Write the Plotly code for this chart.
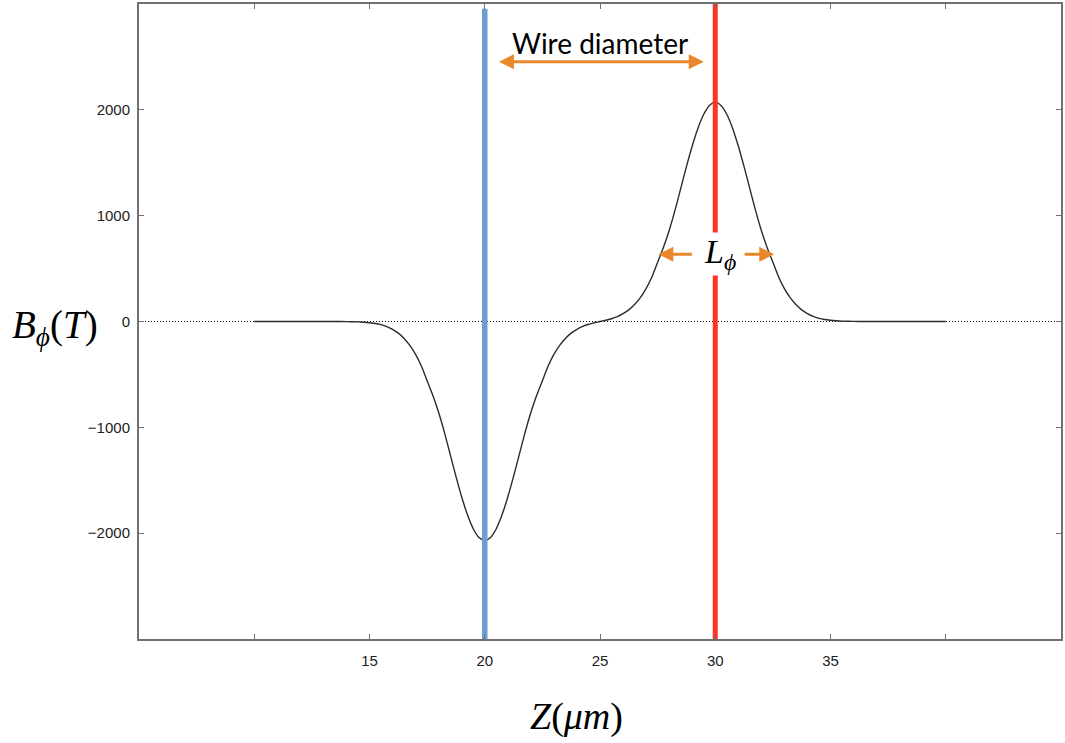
import plotly.graph_objects as go

# ---- data ----
z_um = [10.0, 11.0, 12.0, 13.0, 13.5, 14.0, 14.5,
        14.75, 15.0, 15.25, 15.5, 15.75, 16.0, 16.25, 16.5, 16.75, 17.0, 17.25, 17.5, 17.75,
        18.0, 18.25, 18.5, 18.75, 19.0, 19.25, 19.5, 19.75, 20.0, 20.25, 20.5, 20.75,
        21.0, 21.25, 21.5, 21.75, 22.0, 22.25, 22.5, 22.75, 23.0, 23.25, 23.5, 23.75,
        24.0, 24.25, 24.5, 24.75, 25.0, 25.25, 25.5, 25.75, 26.0, 26.25, 26.5, 26.75,
        27.0, 27.25, 27.5, 27.75, 28.0, 28.25, 28.5, 28.75, 29.0, 29.25, 29.5, 29.75,
        30.0, 30.25, 30.5, 30.75, 31.0, 31.25, 31.5, 31.75, 32.0, 32.25, 32.5, 32.75,
        33.0, 33.25, 33.5, 33.75, 34.0, 34.25, 34.5, 34.75, 35.0, 35.25,
        35.5, 36.0, 36.5, 37.0, 38.0, 39.0, 40.0]
b_phi = [0, 0, 0, 0, 0, -1, -4,
         -7, -12, -19, -30, -48, -75, -110, -160, -225, -310, -420, -560, -700,
         -860, -1048, -1255, -1463, -1658, -1827, -1958, -2041, -2070, -2041, -1958, -1827,
         -1658, -1463, -1255, -1048, -860, -700, -560, -420, -310, -225, -160, -110,
         -74, -46, -26, -12, 0, 12, 26, 46, 74, 110, 160, 225,
         310, 420, 560, 700, 860, 1048, 1255, 1463, 1658, 1827, 1958, 2041,
         2075, 2041, 1958, 1827, 1658, 1463, 1255, 1048, 860, 700, 560, 420,
         310, 225, 160, 110, 75, 48, 30, 19, 12, 7,
         4, 1, 0, 0, 0, 0, 0]

x_tick_vals = [10, 15, 20, 25, 30, 35, 40]
x_tick_text = ["", "15", "20", "25", "30", "35", ""]
y_tick_vals = [-2000, -1000, 0, 1000, 2000]
y_tick_text = ["\u22122000", "\u22121000", "0", "1000", "2000"]

x_range = [5, 45]
y_range = [-3000, 3000]

blue_z = 20
red_z = 30

ORANGE = "#E8872C"

fig = go.Figure()

# zero dotted line
fig.add_trace(go.Scatter(x=x_range, y=[0, 0], mode="lines",
                         line=dict(color="#000000", width=1.2, dash="1px,2px"),
                         hoverinfo="skip", showlegend=False))
# field curve
fig.add_trace(go.Scatter(x=z_um, y=b_phi, mode="lines",
                         line=dict(color="#2b2b2b", width=1.4, shape="spline", smoothing=0.6),
                         showlegend=False))
# wire edges
fig.add_trace(go.Scatter(x=[blue_z, blue_z], y=[y_range[0], 2955], mode="lines",
                         line=dict(color="#6A9FD4", width=5.5), showlegend=False))
fig.add_trace(go.Scatter(x=[red_z, red_z], y=y_range, mode="lines",
                         line=dict(color="#FF3322", width=5), showlegend=False))

axis_common = dict(showline=True, linecolor="#707070", linewidth=2, mirror="ticks",
                   ticks="inside", ticklen=5, tickwidth=1, tickcolor="#707070",
                   showgrid=False, zeroline=False,
                   tickfont=dict(family="Liberation Sans, Arial", size=15, color="#222222"))

fig.update_xaxes(range=x_range, tickmode="array", tickvals=x_tick_vals,
                 ticktext=x_tick_text, ticklabelstandoff=7, **axis_common)
fig.update_yaxes(range=y_range, tickmode="array", tickvals=y_tick_vals,
                 ticktext=y_tick_text, ticklabelstandoff=4, **axis_common)

serif = "Liberation Serif, Times New Roman, serif"
PHI = "\u03d5"

annotations = [
    # Wire diameter label
    dict(x=25.0, y=2635, xref="x", yref="y", text="Wire diameter", showarrow=False,
         font=dict(family="Lato, Open Sans", size=28, color="#000000")),
    # Wire diameter double arrow
    dict(x=29.5, y=2455, ax=20.55, ay=2455, xref="x", yref="y", axref="x", ayref="y",
         text="", showarrow=True, arrowhead=2, arrowside="end+start", arrowsize=1,
         arrowwidth=3, arrowcolor=ORANGE),
    # L_phi label with white box
    dict(x=30.2, y=640, xref="x", yref="y",
         text="<i>L</i><sub><i>" + PHI + "</i></sub>", showarrow=False,
         bgcolor="#ffffff", borderpad=0,
         font=dict(family=serif, size=34, color="#000000")),
    # L_phi arrows
    dict(x=27.53, y=635, ax=29.05, ay=635, xref="x", yref="y", axref="x", ayref="y",
         text="", showarrow=True, arrowhead=2, arrowsize=1, arrowwidth=3, arrowcolor=ORANGE),
    dict(x=32.56, y=635, ax=31.21, ay=635, xref="x", yref="y", axref="x", ayref="y",
         text="", showarrow=True, arrowhead=2, arrowsize=1, arrowwidth=3, arrowcolor=ORANGE),
    # axis titles
    dict(x=-0.1395, y=-60, xref="paper", yref="y", xanchor="left", yanchor="middle",
         text="<i>B</i><sub><i>" + PHI + "</i></sub>(<i>T</i>)", showarrow=False,
         font=dict(family=serif, size=39, color="#000000")),
    dict(x=24.0, y=-0.1226, xref="x", yref="paper", xanchor="center", yanchor="middle",
         text="<i>Z</i>(<i>\u03bcm</i>)", showarrow=False,
         font=dict(family=serif, size=38, color="#000000")),
]

fig.update_layout(width=1065, height=743,
                  margin=dict(l=139, r=2, t=3, b=104),
                  paper_bgcolor="#ffffff", plot_bgcolor="#ffffff",
                  annotations=annotations, showlegend=False)

fig.write_html("out.html")
